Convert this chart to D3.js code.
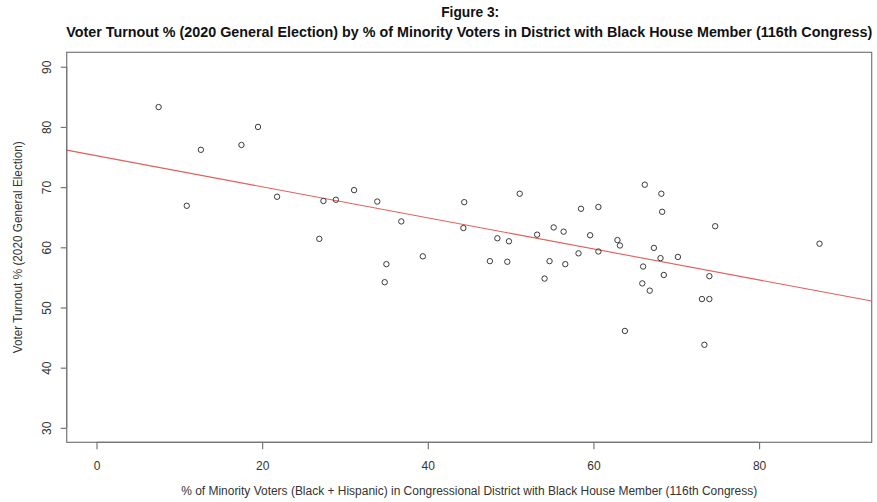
<!DOCTYPE html>
<html>
<head>
<meta charset="utf-8">
<script src="https://cdn.jsdelivr.net/npm/d3@7"></script>
<style>
  html, body { margin: 0; padding: 0; background: #fff; }
  svg { display: block; font-family: "Liberation Sans", Arial, sans-serif; }
</style>
</head>
<body>
<svg id="chart" width="877" height="502"></svg>
<script>
// ---- data ----
const minorityPct = [7.5, 10.9, 12.6, 17.5, 19.5, 21.8, 26.9, 27.4, 28.9, 31.1,
  33.9, 34.8, 35.0, 36.8, 39.4, 44.3, 44.4, 47.5, 48.4, 49.6,
  49.8, 51.1, 53.2, 54.1, 54.7, 55.2, 56.4, 56.6, 58.2, 58.5,
  59.6, 60.6, 60.6, 62.9, 63.2, 63.8, 65.9, 66.0, 66.2, 66.8,
  67.3, 68.1, 68.2, 68.3, 68.5, 70.2, 73.1, 73.4, 74.0, 74.0,
  74.7, 87.3];
const turnoutPct = [83.3, 66.9, 76.2, 77.0, 80.0, 68.4, 61.4, 67.7, 67.9, 69.5,
  67.6, 54.2, 57.2, 64.3, 58.5, 63.2, 67.5, 57.7, 61.5, 57.6,
  61.0, 68.9, 62.1, 54.8, 57.7, 63.3, 62.6, 57.2, 59.0, 66.4,
  62.0, 66.7, 59.3, 61.2, 60.3, 46.1, 54.0, 56.8, 70.4, 52.8,
  59.9, 58.2, 68.9, 65.9, 55.4, 58.4, 51.4, 43.8, 51.4, 55.2,
  63.5, 60.6];
const xTicks = [0, 20, 40, 60, 80];
const yTicks = [30, 40, 50, 60, 70, 80, 90];
const xLimits = [0, 90];
const yLimits = [30, 90];
const titleLines = ["Figure 3:",
  "Voter Turnout % (2020 General Election) by % of Minority Voters in District with Black House Member (116th Congress)"];
const xLabel = "% of Minority Voters (Black + Hispanic) in Congressional District with Black House Member (116th Congress)";
const yLabel = "Voter Turnout % (2020 General Election)";

// ---- layout ----
const box = { left: 66.7, right: 871.7, top: 52.3, bottom: 442.3 };
const svg = d3.select("#chart");

// R-style 4% domain extension
const ext = (lim) => { const d = (lim[1] - lim[0]) * 0.04; return [lim[0] - d, lim[1] + d]; };
const x = d3.scaleLinear().domain(ext(xLimits)).range([box.left, box.right]);
const y = d3.scaleLinear().domain(ext(yLimits)).range([box.bottom, box.top]);

// least-squares fit
const pts = minorityPct.map((v, i) => [v, turnoutPct[i]]);
const mx = d3.mean(pts, d => d[0]), my = d3.mean(pts, d => d[1]);
const slope = d3.sum(pts, d => (d[0] - mx) * (d[1] - my)) / d3.sum(pts, d => (d[0] - mx) ** 2);
const intercept = my - slope * mx;

// clip for regression line
svg.append("clipPath").attr("id", "plotclip").append("rect")
  .attr("x", box.left).attr("y", box.top)
  .attr("width", box.right - box.left).attr("height", box.bottom - box.top);

const xd = x.domain();
svg.append("line")
  .attr("clip-path", "url(#plotclip)")
  .attr("x1", x(xd[0])).attr("y1", y(intercept + slope * xd[0]))
  .attr("x2", x(xd[1])).attr("y2", y(intercept + slope * xd[1]))
  .attr("stroke", "#e0605a").attr("stroke-width", 1.1);

// points
svg.append("g").selectAll("circle").data(pts).join("circle")
  .attr("cx", d => x(d[0])).attr("cy", d => y(d[1]))
  .attr("r", 2.7).attr("fill", "none").attr("stroke", "#3a3a3a").attr("stroke-width", 1);

// box
svg.append("rect")
  .attr("x", box.left).attr("y", box.top)
  .attr("width", box.right - box.left).attr("height", box.bottom - box.top)
  .attr("fill", "none").attr("stroke", "#777").attr("stroke-width", 1.2);

// axes
const xAxis = svg.append("g").attr("transform", `translate(0,${box.bottom})`)
  .call(d3.axisBottom(x).tickValues(xTicks).tickSize(7).tickPadding(12).tickSizeOuter(0));
xAxis.select(".domain").attr("d", `M${x(xTicks[0])},0H${x(xTicks[xTicks.length - 1])}`);
const yAxis = svg.append("g").attr("transform", `translate(${box.left},0)`)
  .call(d3.axisLeft(y).tickValues(yTicks).tickSize(6).tickPadding(0).tickSizeOuter(0));
yAxis.select(".domain").attr("d", `M0,${y(yTicks[0])}V${y(yTicks[yTicks.length - 1])}`);
[xAxis, yAxis].forEach(g => {
  g.selectAll(".domain, .tick line").attr("stroke", "#777").attr("stroke-width", 1.2);
  g.selectAll("text").attr("fill", "#333").attr("font-size", 12)
    .attr("font-family", "'Liberation Sans', Arial, sans-serif");
});
yAxis.selectAll(".tick text")
  .attr("x", null).attr("dy", null)
  .attr("text-anchor", "middle")
  .attr("transform", "translate(-20,0) rotate(-90)")
  .attr("dy", "0.35em");

// titles
const cx = (box.left + box.right) / 2;
svg.append("text").attr("x", cx + 1).attr("y", 17).attr("text-anchor", "middle")
  .attr("font-weight", "bold").attr("font-size", 14).attr("fill", "#111")
  .attr("textLength", 58).attr("lengthAdjust", "spacingAndGlyphs")
  .text(titleLines[0]);
svg.append("text").attr("x", cx).attr("y", 37).attr("text-anchor", "middle")
  .attr("font-weight", "bold").attr("font-size", 14).attr("fill", "#111")
  .attr("textLength", 806).attr("lengthAdjust", "spacingAndGlyphs")
  .text(titleLines[1]);

svg.append("text").attr("x", cx).attr("y", 495).attr("text-anchor", "middle")
  .attr("font-size", 12).attr("fill", "#333")
  .attr("textLength", 576).attr("lengthAdjust", "spacingAndGlyphs")
  .text(xLabel);
svg.append("text")
  .attr("transform", `translate(22,${(box.top + box.bottom) / 2}) rotate(-90)`)
  .attr("text-anchor", "middle").attr("font-size", 12).attr("fill", "#333")
  .attr("textLength", 212).attr("lengthAdjust", "spacingAndGlyphs")
  .text(yLabel);
</script>
</body>
</html>
